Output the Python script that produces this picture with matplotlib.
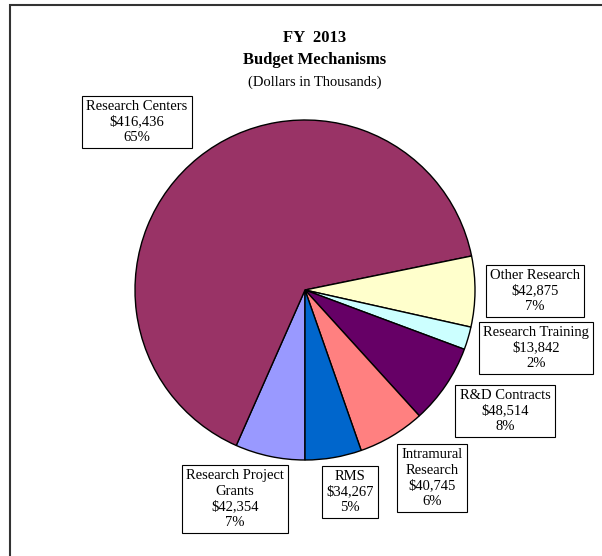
import matplotlib
matplotlib.use("Agg")
import matplotlib.pyplot as plt

# ── Data ──────────────────────────────────────────────────────────────────────
labels = ["Research Project\nGrants", "Research Centers", "Other Research",
          "Research Training", "R&D Contracts", "Intramural\nResearch", "RMS"]
values = [42354, 416436, 42875, 13842, 48514, 40745, 34267]
pcts = ["7%", "65%", "7%", "2%", "8%", "6%", "5%"]
colors = ["#9999FF", "#993366", "#FFFFCC", "#CCFFFF", "#660066", "#FF8080", "#0066CC"]

# label box centres in pixel coordinates (x from left, y from top)
label_pos = [(235, 499), (137, 122), (535, 291), (536, 348),
             (505, 411), (432, 478), (350, 492)]

W, H = 602, 556
plt.rcParams["font.family"] = ["Liberation Serif", "DejaVu Serif"]

fig = plt.figure(figsize=(W / 100, H / 100), dpi=100)
ax = fig.add_axes([0, 0, 1, 1])

# outer chart-area border (only top and left visible in crop)
ax.plot([10, 10, W + 5], [-5, H - 5, H - 5], color="#333333", lw=1.5,
        solid_joinstyle="miter")

ax.pie(values, colors=colors, startangle=-90, counterclock=False,
       center=(305, H - 290), radius=170, frame=True,
       wedgeprops={"edgecolor": "black", "linewidth": 1.0})
ax.set_xlim(0, W)
ax.set_ylim(0, H)
ax.set_aspect("equal")
ax.axis("off")

# titles
ax.text(315, H - 38, "FY  2013", ha="center", va="center",
        fontsize=12, fontweight="bold")
ax.text(315, H - 60, "Budget Mechanisms", ha="center", va="center",
        fontsize=12, fontweight="bold")
ax.text(315, H - 82, "(Dollars in Thousands)", ha="center", va="center",
        fontsize=10.5)

for lab, v, p, (x, y) in zip(labels, values, pcts, label_pos):
    ax.text(x, H - y, f"{lab}\n${v:,}\n{p}", ha="center", va="center",
            multialignment="center", fontsize=10.5, linespacing=1.25,
            bbox=dict(boxstyle="square,pad=0.3", fc="white", ec="black", lw=0.8))

fig.savefig("out.png", dpi=100)
